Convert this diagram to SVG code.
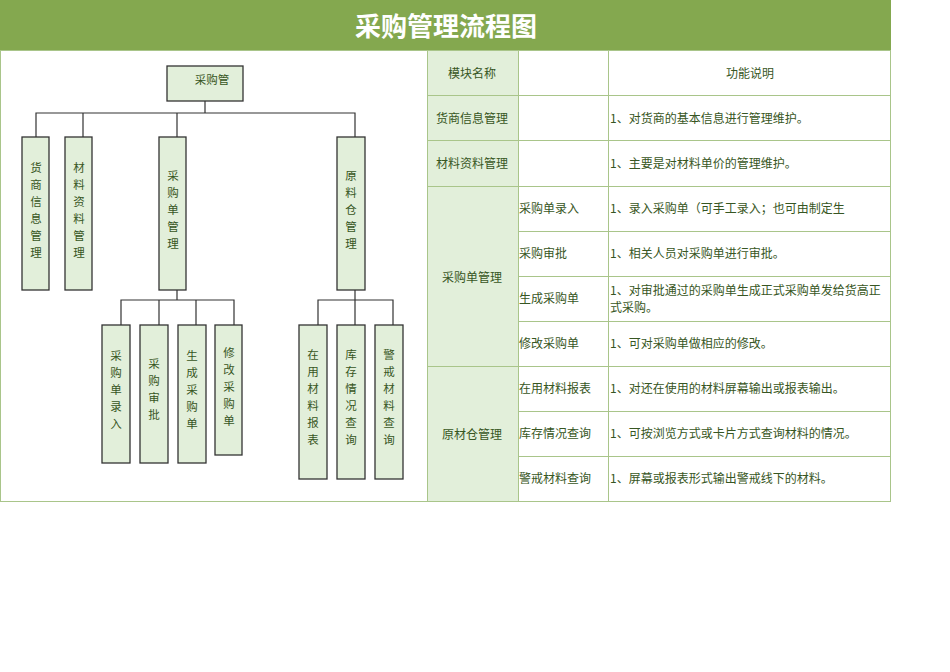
<svg xmlns="http://www.w3.org/2000/svg" width="950" height="672" viewBox="0 0 950 672">
<style>
.b{fill:#e2efda;stroke:#333;stroke-width:1.3}
.v{font-family:"Noto Sans CJK SC",sans-serif;font-size:11.5px;fill:#375623;text-anchor:middle}
.t{font-family:"Noto Sans CJK SC",sans-serif;font-size:12px;fill:#375623}
.c{stroke:#333;stroke-width:1.2;fill:none}
.g{stroke:#a9c58a;stroke-width:1;fill:none}
.h{fill:#e2efda}
</style>
<rect width="950" height="672" fill="#fff"/>
<rect x="0" y="0" width="891" height="50" fill="#84a84f"/>
<text x="446" y="36" font-family="Noto Sans CJK SC,sans-serif" font-size="26" font-weight="bold" fill="#fff" text-anchor="middle">采购管理流程图</text>
<rect x="0.5" y="50.5" width="427" height="451" class="g"/>
<g id="table">
<rect x="427" y="50" width="91" height="136" class="h"/>
<rect x="427" y="186" width="91" height="315" class="h"/>
<path class="g" d="M427.5 50V501M518.5 50V501M608.5 50V501M890.5 50V501M427 50.5H891M427 95.5H891M427 140.5H891M427 186.5H891M518 231.5H891M518 276.5H891M518 321.5H891M427 366.5H891M518 411.5H891M518 456.5H891M427 501.5H891"/>
<g class="t" text-anchor="middle">
<text x="472" y="78">模块名称</text><text x="750" y="78">功能说明</text>
<text x="472" y="123">货商信息管理</text><text x="472" y="168">材料资料管理</text>
<text x="472" y="282">采购单管理</text><text x="472" y="439">原材仓管理</text>
</g>
<g class="t">
<text x="519" y="213">采购单录入</text><text x="519" y="258">采购审批</text><text x="519" y="303">生成采购单</text><text x="519" y="348">修改采购单</text>
<text x="519" y="393">在用材料报表</text><text x="519" y="438">库存情况查询</text><text x="519" y="483">警戒材料查询</text>
<text x="610" y="123">1、对货商的基本信息进行管理维护。</text>
<text x="610" y="168">1、主要是对材料单价的管理维护。</text>
<text x="610" y="213">1、录入采购单（可手工录入；也可由制定生</text>
<text x="610" y="258">1、相关人员对采购单进行审批。</text>
<text x="610" y="295">1、对审批通过的采购单生成正式采购单发给货高正</text>
<text x="610" y="312">式采购。</text>
<text x="610" y="348">1、可对采购单做相应的修改。</text>
<text x="610" y="393">1、对还在使用的材料屏幕输出或报表输出。</text>
<text x="610" y="438">1、可按浏览方式或卡片方式查询材料的情况。</text>
<text x="610" y="483">1、屏幕或报表形式输出警戒线下的材料。</text>
</g>
</g>
<g id="connectors">
<path class="c" d="M205 101V113M36 137V113H355V137M83 113V137M177 113V137M177 290V300M121 325V300H234V325M159 300V325M196 300V325M355 290V300M318 325V300H393V325M355 300V325"/>
</g>
<g id="root"><rect class="b" x="167" y="66" width="76" height="35"/><text class="v" x="212" y="84" font-size="12.5">采购管</text></g>
<g id="n1"><rect class="b" x="22" y="137" width="27" height="153"/><text class="v" x="36" y="172">货</text><text class="v" x="36" y="189">商</text><text class="v" x="36" y="206">信</text><text class="v" x="36" y="223">息</text><text class="v" x="36" y="240">管</text><text class="v" x="36" y="257">理</text></g>
<g id="n2"><rect class="b" x="65" y="137" width="27" height="153"/><text class="v" x="79" y="172">材</text><text class="v" x="79" y="189">料</text><text class="v" x="79" y="206">资</text><text class="v" x="79" y="223">料</text><text class="v" x="79" y="240">管</text><text class="v" x="79" y="257">理</text></g>
<g id="n3"><rect class="b" x="159" y="137" width="27" height="153"/><text class="v" x="173" y="180">采</text><text class="v" x="173" y="197">购</text><text class="v" x="173" y="214">单</text><text class="v" x="173" y="231">管</text><text class="v" x="173" y="248">理</text></g>
<g id="n4"><rect class="b" x="337" y="137" width="28" height="153"/><text class="v" x="351" y="180">原</text><text class="v" x="351" y="197">料</text><text class="v" x="351" y="214">仓</text><text class="v" x="351" y="231">管</text><text class="v" x="351" y="248">理</text></g>
<g id="n5"><rect class="b" x="102" y="325" width="28" height="138"/><text class="v" x="116" y="360">采</text><text class="v" x="116" y="377">购</text><text class="v" x="116" y="394">单</text><text class="v" x="116" y="411">录</text><text class="v" x="116" y="428">入</text></g>
<g id="n6"><rect class="b" x="140" y="325" width="28" height="138"/><text class="v" x="154" y="368">采</text><text class="v" x="154" y="385">购</text><text class="v" x="154" y="402">审</text><text class="v" x="154" y="419">批</text></g>
<g id="n7"><rect class="b" x="178" y="325" width="28" height="138"/><text class="v" x="192" y="360">生</text><text class="v" x="192" y="377">成</text><text class="v" x="192" y="394">采</text><text class="v" x="192" y="411">购</text><text class="v" x="192" y="428">单</text></g>
<g id="n8"><rect class="b" x="215" y="325" width="27" height="130"/><text class="v" x="229" y="357">修</text><text class="v" x="229" y="374">改</text><text class="v" x="229" y="391">采</text><text class="v" x="229" y="408">购</text><text class="v" x="229" y="425">单</text></g>
<g id="n9"><rect class="b" x="299" y="325" width="28" height="154"/><text class="v" x="313" y="359">在</text><text class="v" x="313" y="376">用</text><text class="v" x="313" y="393">材</text><text class="v" x="313" y="410">料</text><text class="v" x="313" y="427">报</text><text class="v" x="313" y="444">表</text></g>
<g id="n10"><rect class="b" x="337" y="325" width="28" height="154"/><text class="v" x="351" y="359">库</text><text class="v" x="351" y="376">存</text><text class="v" x="351" y="393">情</text><text class="v" x="351" y="410">况</text><text class="v" x="351" y="427">查</text><text class="v" x="351" y="444">询</text></g>
<g id="n11"><rect class="b" x="375" y="325" width="28" height="154"/><text class="v" x="389" y="359">警</text><text class="v" x="389" y="376">戒</text><text class="v" x="389" y="393">材</text><text class="v" x="389" y="410">料</text><text class="v" x="389" y="427">查</text><text class="v" x="389" y="444">询</text></g>
</svg>
